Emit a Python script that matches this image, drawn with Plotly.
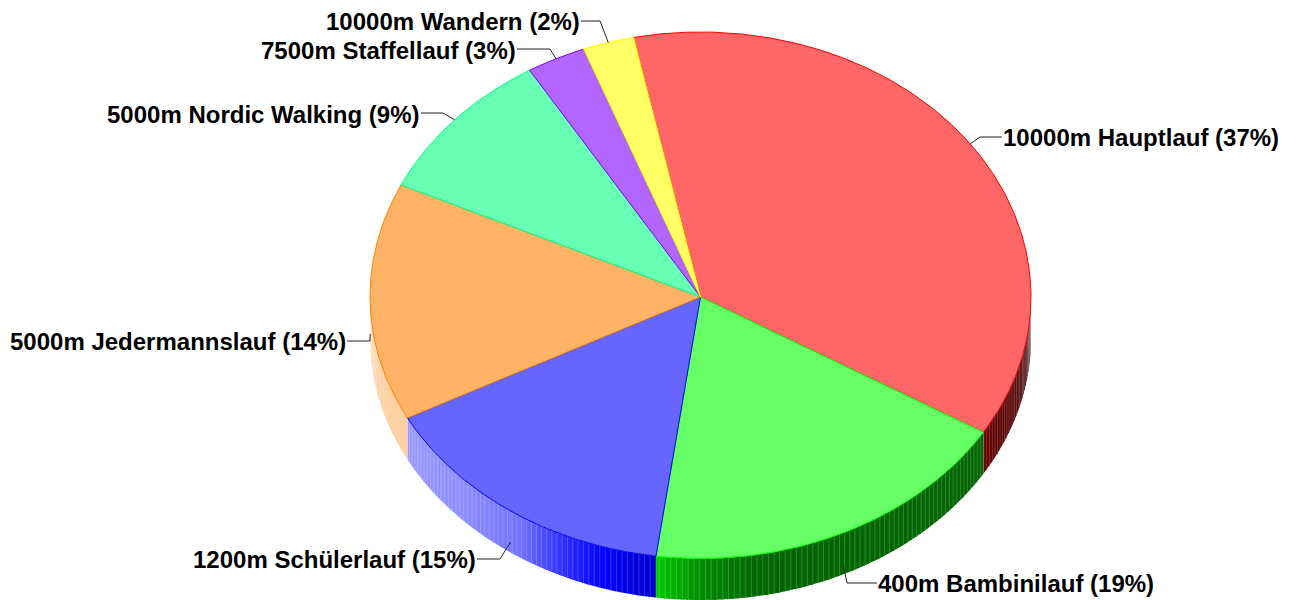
import numpy as np
import plotly.graph_objects as go

# --- data -------------------------------------------------------------
CATEGORIES = ["10000m Hauptlauf", "400m Bambinilauf", "1200m Schülerlauf",
              "5000m Jedermannslauf", "5000m Nordic Walking",
              "7500m Staffellauf", "10000m Wandern"]
PERCENT_LABELS = [37, 19, 15, 14, 9, 3, 2]
VALUES = [36.9, 18.5, 15.2, 14.6, 9.4, 2.9, 2.5]

# --- style / layout ---------------------------------------------------
BASE_COLORS = [(255, 0, 0), (0, 255, 0), (0, 0, 255), (255, 128, 0),
               (0, 255, 128), (128, 0, 255), (255, 255, 0)]
START_ANGLE = -11.7
CX, CY, RX, RY_UP, RY_DOWN, DEPTH = 700.5, 297, 330.5, 265, 261.5, 41.5
W, H = 1291, 600
FONT = "Liberation Sans, Arial, sans-serif"
SHADE_T = [90, 105, 121, 170, 180, 188, 197, 205, 213, 225, 242, 270]
SHADE_F = [0.15, 0.3, 0.4, 0.4, 0.55, 0.8, 1.0, 1.2, 1.45, 1.55, 1.6, 1.65]
# text anchor: (x, y, side), elbow: (x, y)
LABEL_POS = [(1001, 137, "left"), (876, 583, "left"), (478, 559, "right"),
             (348, 341, "right"), (422, 114, "right"), (518, 50, "right"),
             (582, 21, "right")]
ELBOWS = [(980, 137), (847, 583), (500, 559), (370, 341),
          (443, 113), (550, 49), (600, 21)]


def ell(t):
    r = np.radians(t)
    c = np.cos(r)
    return CX + RX * np.sin(r), CY - np.where(c > 0, RY_UP, RY_DOWN) * c


def shade(c, t):
    f = float(np.interp(t, SHADE_T, SHADE_F))
    if f <= 1:
        rgb = [v * f for v in c]
    else:
        a = f - 1
        rgb = [v + (255 - v) * a for v in c]
    return "rgb(%d,%d,%d)" % tuple(int(round(v)) for v in rgb)


def tint(c, a=0.4):
    return "rgb(%d,%d,%d)" % tuple(int(round(v + (255 - v) * a)) for v in c)


fig = go.Figure()
edges = START_ANGLE + np.concatenate([[0], np.cumsum(VALUES)]) * 3.6

# side wall: one-degree strips with faint seams
for i, c in enumerate(BASE_COLORS):
    a0, a1 = edges[i], edges[i + 1]
    lo, hi = max(a0, 90), min(a1, 270)
    if hi <= lo:
        continue
    ts = np.append(np.arange(lo, hi, 1.0), hi)
    sx, sy = [], []
    for t0, t1 in zip(ts[:-1], ts[1:]):
        tt = np.linspace(t0, min(t1 + 0.25, hi), 4)
        x, y = ell(tt)
        fig.add_trace(go.Scatter(
            x=np.r_[x, x[::-1]], y=np.r_[y, y[::-1] + DEPTH],
            mode="lines", fill="toself", fillcolor=shade(c, (t0 + t1) / 2),
            line=dict(width=0), hoverinfo="skip", showlegend=False))
        xs, ys = ell(t0)
        xs, ys = float(xs), float(ys)
        sx += [xs, xs, None]
        sy += [ys, ys + DEPTH, None]
    fig.add_trace(go.Scatter(
        x=sx, y=sy, mode="lines", line=dict(color="rgba(255,255,255,0.25)", width=0.8),
        hoverinfo="skip", showlegend=False))

# top faces
for i, (name, c) in enumerate(zip(CATEGORIES, BASE_COLORS)):
    tt = np.linspace(edges[i], edges[i + 1], max(8, int(VALUES[i] * 8)))
    x, y = ell(tt)
    fig.add_trace(go.Scatter(
        x=np.r_[CX, x, CX], y=np.r_[CY, y, CY], mode="lines", fill="toself",
        fillcolor=tint(c), line=dict(color="rgb(%d,%d,%d)" % c, width=1),
        name=name, hoverinfo="skip", showlegend=False))

# leader lines and labels
for i, name in enumerate(CATEGORIES):
    mid = (edges[i] + edges[i + 1]) / 2
    px, py = ell(mid)
    px, py = float(px), float(py)
    if 90 < mid % 360 < 270:
        py += DEPTH * 0.75
    lx, ly, side = LABEL_POS[i]
    ex, ey = ELBOWS[i]
    endx = lx + 1 if side == "left" else lx - 1
    fig.add_trace(go.Scatter(
        x=[px, ex, endx], y=[py, ey, ey], mode="lines",
        line=dict(color="#222222", width=1), hoverinfo="skip", showlegend=False))
    fig.add_annotation(
        x=lx, y=ly, text=f"<b>{name} ({PERCENT_LABELS[i]}%)</b>", showarrow=False,
        xanchor=side, yanchor="middle", xshift=0,
        font=dict(family=FONT, size=24, color="#000000"))

fig.update_layout(
    width=W, height=H, margin=dict(l=0, r=0, t=0, b=0),
    paper_bgcolor="white", plot_bgcolor="white", showlegend=False,
    xaxis=dict(range=[0, W], visible=False, fixedrange=True),
    yaxis=dict(range=[H, 0], visible=False, fixedrange=True),
)
fig.write_html("out.html", config={"displayModeBar": False},
               post_script="document.body.style.margin='0';document.documentElement.style.overflow='hidden';")
